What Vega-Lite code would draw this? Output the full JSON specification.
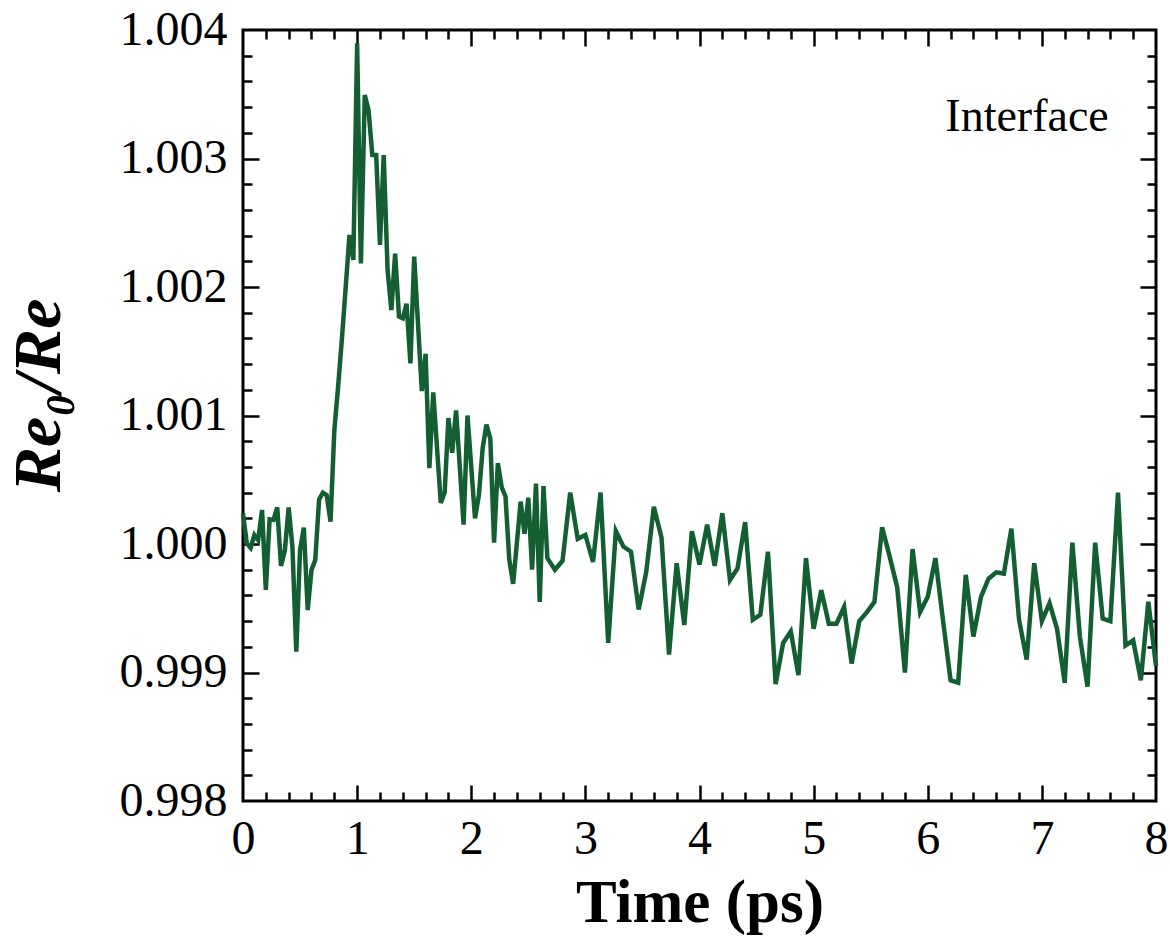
{
  "$schema": "https://vega.github.io/schema/vega-lite/v6.json",
  "width": 913,
  "height": 771,
  "autosize": {"type": "none"},
  "padding": {"left": 243, "top": 30, "right": 14, "bottom": 137},
  "background": "white",
  "config": {
    "view": {"stroke": "black", "strokeWidth": 3},
    "axis": {
      "grid": false,
      "domain": false,
      "tickColor": "black",
      "tickWidth": 2.5,
      "labelFlush": false,
      "labelFont": "Liberation Serif",
      "labelFontSize": 48,
      "labelColor": "black",
      "titleFont": "Liberation Serif",
      "titleColor": "black"
    }
  },
  "data": {
    "values": [
      {"t": 0, "v": 1.00024}, {"t": 0.033, "v": 1.000005}, {"t": 0.067, "v": 0.99997}, {"t": 0.1, "v": 1.00007},
      {"t": 0.133, "v": 1.00003}, {"t": 0.167, "v": 1.000265}, {"t": 0.2, "v": 0.999642}, {"t": 0.233, "v": 1.000192},
      {"t": 0.267, "v": 1.000187}, {"t": 0.3, "v": 1.000285}, {"t": 0.333, "v": 0.999829}, {"t": 0.367, "v": 0.999953},
      {"t": 0.4, "v": 1.000285}, {"t": 0.433, "v": 0.999979}, {"t": 0.467, "v": 0.999162}, {"t": 0.5, "v": 0.999953},
      {"t": 0.533, "v": 1.000127}, {"t": 0.567, "v": 0.999486}, {"t": 0.6, "v": 0.999798}, {"t": 0.633, "v": 0.999875},
      {"t": 0.667, "v": 1.000348}, {"t": 0.7, "v": 1.0004}, {"t": 0.733, "v": 1.000381}, {"t": 0.767, "v": 1.000174},
      {"t": 0.8, "v": 1.00088}, {"t": 0.833, "v": 1.00122}, {"t": 0.867, "v": 1.0016}, {"t": 0.9, "v": 1.002},
      {"t": 0.933, "v": 1.002405}, {"t": 0.967, "v": 1.00221}, {"t": 1.0, "v": 1.003896}, {"t": 1.033, "v": 1.002184},
      {"t": 1.067, "v": 1.003494}, {"t": 1.1, "v": 1.003377}, {"t": 1.133, "v": 1.003027}, {"t": 1.167, "v": 1.003027},
      {"t": 1.2, "v": 1.002327}, {"t": 1.233, "v": 1.003027}, {"t": 1.267, "v": 1.00213}, {"t": 1.3, "v": 1.00182},
      {"t": 1.333, "v": 1.00226}, {"t": 1.367, "v": 1.00177}, {"t": 1.4, "v": 1.001756}, {"t": 1.433, "v": 1.00187},
      {"t": 1.467, "v": 1.001406}, {"t": 1.5, "v": 1.002236}, {"t": 1.567, "v": 1.00119}, {"t": 1.6, "v": 1.00148},
      {"t": 1.633, "v": 1.00059}, {"t": 1.667, "v": 1.00118}, {"t": 1.733, "v": 1.00032}, {"t": 1.767, "v": 1.0004},
      {"t": 1.8, "v": 1.00098}, {"t": 1.833, "v": 1.00071}, {"t": 1.867, "v": 1.00104}, {"t": 1.933, "v": 1.00015},
      {"t": 1.967, "v": 1.001}, {"t": 2.033, "v": 1.0002}, {"t": 2.067, "v": 1.00038}, {"t": 2.1, "v": 1.000745},
      {"t": 2.133, "v": 1.00093}, {"t": 2.167, "v": 1.00082}, {"t": 2.2, "v": 1.00001}, {"t": 2.233, "v": 1.00063},
      {"t": 2.267, "v": 1.00044}, {"t": 2.3, "v": 1.00037}, {"t": 2.333, "v": 0.99988}, {"t": 2.367, "v": 0.99969},
      {"t": 2.433, "v": 1.00033}, {"t": 2.467, "v": 1.00008}, {"t": 2.5, "v": 1.00036}, {"t": 2.533, "v": 0.9998},
      {"t": 2.567, "v": 1.00047}, {"t": 2.6, "v": 0.99955}, {"t": 2.633, "v": 1.00045}, {"t": 2.667, "v": 0.99989},
      {"t": 2.733, "v": 0.9998}, {"t": 2.8, "v": 0.99987}, {"t": 2.867, "v": 1.0004}, {"t": 2.933, "v": 1.00004},
      {"t": 3.0, "v": 1.00007}, {"t": 3.067, "v": 0.99986}, {"t": 3.133, "v": 1.0004}, {"t": 3.2, "v": 0.99923},
      {"t": 3.267, "v": 1.0001}, {"t": 3.333, "v": 0.99998}, {"t": 3.4, "v": 0.99994}, {"t": 3.467, "v": 0.99949},
      {"t": 3.533, "v": 0.99978}, {"t": 3.6, "v": 1.00029}, {"t": 3.667, "v": 1.00005}, {"t": 3.733, "v": 0.99914},
      {"t": 3.8, "v": 0.99985}, {"t": 3.867, "v": 0.99937}, {"t": 3.933, "v": 1.0001}, {"t": 4.0, "v": 0.99984},
      {"t": 4.067, "v": 1.00015}, {"t": 4.133, "v": 0.99983}, {"t": 4.2, "v": 1.00024}, {"t": 4.267, "v": 0.99972},
      {"t": 4.333, "v": 0.99981}, {"t": 4.4, "v": 1.00017}, {"t": 4.467, "v": 0.99941}, {"t": 4.533, "v": 0.99945},
      {"t": 4.6, "v": 0.99994}, {"t": 4.667, "v": 0.99891}, {"t": 4.733, "v": 0.99923}, {"t": 4.8, "v": 0.99932},
      {"t": 4.867, "v": 0.99898}, {"t": 4.933, "v": 0.99989}, {"t": 5.0, "v": 0.99934}, {"t": 5.067, "v": 0.99964},
      {"t": 5.133, "v": 0.99938}, {"t": 5.2, "v": 0.99938}, {"t": 5.267, "v": 0.99951}, {"t": 5.333, "v": 0.99907},
      {"t": 5.4, "v": 0.9994}, {"t": 5.467, "v": 0.99947}, {"t": 5.533, "v": 0.99955}, {"t": 5.6, "v": 1.00013},
      {"t": 5.667, "v": 0.9999}, {"t": 5.733, "v": 0.99966}, {"t": 5.8, "v": 0.999}, {"t": 5.867, "v": 0.99996},
      {"t": 5.933, "v": 0.99947}, {"t": 6.0, "v": 0.99959}, {"t": 6.067, "v": 0.99989}, {"t": 6.133, "v": 0.99941},
      {"t": 6.2, "v": 0.99894}, {"t": 6.267, "v": 0.99892}, {"t": 6.333, "v": 0.99976}, {"t": 6.4, "v": 0.99928},
      {"t": 6.467, "v": 0.99959}, {"t": 6.533, "v": 0.99973}, {"t": 6.6, "v": 0.99978}, {"t": 6.667, "v": 0.99977},
      {"t": 6.733, "v": 1.00012}, {"t": 6.8, "v": 0.99941}, {"t": 6.867, "v": 0.9991}, {"t": 6.933, "v": 0.99985},
      {"t": 7.0, "v": 0.9994}, {"t": 7.067, "v": 0.99954}, {"t": 7.133, "v": 0.99934}, {"t": 7.2, "v": 0.99892},
      {"t": 7.267, "v": 1.00001}, {"t": 7.333, "v": 0.99928}, {"t": 7.4, "v": 0.99889}, {"t": 7.467, "v": 1.00001},
      {"t": 7.533, "v": 0.99942}, {"t": 7.6, "v": 0.9994}, {"t": 7.667, "v": 1.0004}, {"t": 7.733, "v": 0.99921},
      {"t": 7.8, "v": 0.99925}, {"t": 7.867, "v": 0.99894}, {"t": 7.933, "v": 0.99955}, {"t": 8.0, "v": 0.99905}
    ]
  },
  "layer": [
    {
      "mark": {"type": "line", "color": "#145f31", "strokeWidth": 4.5, "strokeJoin": "miter"},
      "encoding": {
        "x": {
          "field": "t", "type": "quantitative",
          "scale": {"domain": [0, 8], "nice": false, "zero": false},
          "axis": {
            "orient": "bottom", "values": [0, 1, 2, 3, 4, 5, 6, 7, 8], "ticks": false,
            "labelPadding": 14, "title": "Time (ps)", "titleFontSize": 61, "titleFontWeight": "bold",
            "titlePadding": 10
          }
        },
        "y": {
          "field": "v", "type": "quantitative",
          "scale": {"domain": [0.998, 1.004], "nice": false, "zero": false},
          "axis": {
            "orient": "left", "values": [0.998, 0.999, 1.0, 1.001, 1.002, 1.003, 1.004], "format": ".3f",
            "ticks": false, "labelPadding": 16, "title": "Re₀/Re", "titleFontSize": 68,
            "titleFontWeight": "bold", "titleFontStyle": "italic", "titlePadding": 46, "titleY": 365
          }
        }
      }
    },
    {
      "mark": {"type": "line", "opacity": 0},
      "encoding": {
        "x": {
          "field": "t", "type": "quantitative",
          "axis": {"orient": "top", "offset": -771, "labels": false, "title": null, "tickSize": 16, "values": [1, 2, 3, 4, 5, 6, 7]}
        },
        "y": {
          "field": "v", "type": "quantitative",
          "axis": {"orient": "right", "offset": -913, "labels": false, "title": null, "tickSize": 16, "values": [0.999, 1.0, 1.001, 1.002, 1.003]}
        }
      }
    },
    {
      "mark": {"type": "line", "opacity": 0},
      "encoding": {
        "x": {
          "field": "t", "type": "quantitative",
          "axis": {
            "orient": "top", "offset": -771, "labels": false, "title": null, "tickSize": 9,
            "values": [0.2, 0.4, 0.6, 0.8, 1.2, 1.4, 1.6, 1.8, 2.2, 2.4, 2.6, 2.8, 3.2, 3.4, 3.6, 3.8, 4.2, 4.4, 4.6, 4.8, 5.2, 5.4, 5.6, 5.8, 6.2, 6.4, 6.6, 6.8, 7.2, 7.4, 7.6, 7.8]
          }
        },
        "y": {
          "field": "v", "type": "quantitative",
          "axis": {
            "orient": "right", "offset": -913, "labels": false, "title": null, "tickSize": 9,
            "values": [0.9982, 0.9984, 0.9986, 0.9988, 0.9992, 0.9994, 0.9996, 0.9998, 1.0002, 1.0004, 1.0006, 1.0008, 1.0012, 1.0014, 1.0016, 1.0018, 1.0022, 1.0024, 1.0026, 1.0028, 1.0032, 1.0034, 1.0036, 1.0038]
          }
        }
      }
    },
    {
      "mark": {"type": "line", "opacity": 0},
      "encoding": {
        "x": {
          "field": "t", "type": "quantitative",
          "axis": {"orient": "bottom", "offset": -771, "labels": false, "title": null, "tickSize": 16, "values": [1, 2, 3, 4, 5, 6, 7]}
        },
        "y": {
          "field": "v", "type": "quantitative",
          "axis": {"orient": "left", "offset": -913, "labels": false, "title": null, "tickSize": 16, "values": [0.999, 1.0, 1.001, 1.002, 1.003]}
        }
      }
    },
    {
      "mark": {"type": "line", "opacity": 0},
      "encoding": {
        "x": {
          "field": "t", "type": "quantitative",
          "axis": {
            "orient": "bottom", "offset": -771, "labels": false, "title": null, "tickSize": 9,
            "values": [0.2, 0.4, 0.6, 0.8, 1.2, 1.4, 1.6, 1.8, 2.2, 2.4, 2.6, 2.8, 3.2, 3.4, 3.6, 3.8, 4.2, 4.4, 4.6, 4.8, 5.2, 5.4, 5.6, 5.8, 6.2, 6.4, 6.6, 6.8, 7.2, 7.4, 7.6, 7.8]
          }
        },
        "y": {
          "field": "v", "type": "quantitative",
          "axis": {
            "orient": "left", "offset": -913, "labels": false, "title": null, "tickSize": 9,
            "values": [0.9982, 0.9984, 0.9986, 0.9988, 0.9992, 0.9994, 0.9996, 0.9998, 1.0002, 1.0004, 1.0006, 1.0008, 1.0012, 1.0014, 1.0016, 1.0018, 1.0022, 1.0024, 1.0026, 1.0028, 1.0032, 1.0034, 1.0036, 1.0038]
          }
        }
      }
    },
    {
      "data": {"values": [{"t": 6.87, "v": 1.00332, "label": "Interface"}]},
      "mark": {"type": "text", "font": "Liberation Serif", "fontSize": 46, "color": "black", "align": "center", "baseline": "middle"},
      "encoding": {
        "x": {"field": "t", "type": "quantitative", "axis": null},
        "y": {"field": "v", "type": "quantitative", "axis": null},
        "text": {"field": "label"}
      }
    }
  ],
  "resolve": {"axis": {"x": "independent", "y": "independent"}}
}
